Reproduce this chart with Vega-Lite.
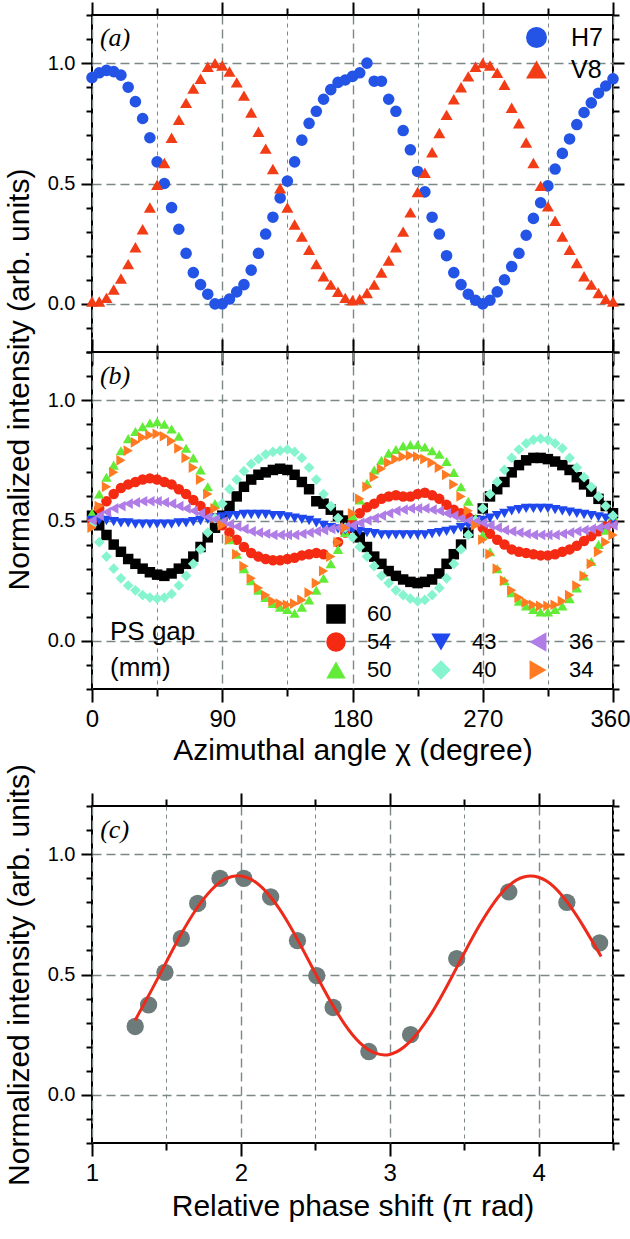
{
"$schema":"https://vega.github.io/schema/vega-lite/v6.json",
"background":"white",
"padding":{"left":3,"top":0,"right":2,"bottom":4},
"config":{
 "font":"Liberation Sans",
 "view":{"stroke":"black","strokeWidth":2},
 "axis":{"labelFont":"Liberation Sans","titleFont":"Liberation Sans","titleFontWeight":"normal","labelColor":"black","titleColor":"black","tickColor":"black","tickWidth":2,"domain":false},
 "legend":{"labelFont":"Liberation Sans","titleFont":"Liberation Sans","labelColor":"black","titleColor":"black","padding":0,"symbolStrokeWidth":0,"symbolOpacity":1}
},
"datasets":{
"a":[
{"s":"H7","chi":0,"v":0.94},{"s":"H7","chi":5,"v":0.96},{"s":"H7","chi":10,"v":0.97},{"s":"H7","chi":15,"v":0.965},{"s":"H7","chi":20,"v":0.95},{"s":"H7","chi":25,"v":0.9},{"s":"H7","chi":30,"v":0.84},{"s":"H7","chi":35,"v":0.77},{"s":"H7","chi":40,"v":0.69},{"s":"H7","chi":45,"v":0.59},{"s":"H7","chi":50,"v":0.5},{"s":"H7","chi":55,"v":0.4},{"s":"H7","chi":60,"v":0.31},{"s":"H7","chi":65,"v":0.21},{"s":"H7","chi":70,"v":0.13},{"s":"H7","chi":75,"v":0.08},{"s":"H7","chi":80,"v":0.04},{"s":"H7","chi":85,"v":0.0},{"s":"H7","chi":90,"v":0.0},{"s":"H7","chi":95,"v":0.02},{"s":"H7","chi":100,"v":0.05},{"s":"H7","chi":105,"v":0.08},{"s":"H7","chi":110,"v":0.14},{"s":"H7","chi":115,"v":0.21},{"s":"H7","chi":120,"v":0.29},{"s":"H7","chi":125,"v":0.36},{"s":"H7","chi":130,"v":0.44},{"s":"H7","chi":135,"v":0.51},{"s":"H7","chi":140,"v":0.59},{"s":"H7","chi":145,"v":0.68},{"s":"H7","chi":150,"v":0.75},{"s":"H7","chi":155,"v":0.8},{"s":"H7","chi":160,"v":0.85},{"s":"H7","chi":165,"v":0.89},{"s":"H7","chi":170,"v":0.92},{"s":"H7","chi":175,"v":0.93},{"s":"H7","chi":180,"v":0.945},{"s":"H7","chi":185,"v":0.96},{"s":"H7","chi":190,"v":1.0},{"s":"H7","chi":195,"v":0.925},{"s":"H7","chi":200,"v":0.925},{"s":"H7","chi":205,"v":0.85},{"s":"H7","chi":210,"v":0.8},{"s":"H7","chi":215,"v":0.72},{"s":"H7","chi":220,"v":0.64},{"s":"H7","chi":225,"v":0.55},{"s":"H7","chi":230,"v":0.465},{"s":"H7","chi":235,"v":0.36},{"s":"H7","chi":240,"v":0.29},{"s":"H7","chi":245,"v":0.2},{"s":"H7","chi":250,"v":0.13},{"s":"H7","chi":255,"v":0.08},{"s":"H7","chi":260,"v":0.04},{"s":"H7","chi":265,"v":0.015},{"s":"H7","chi":270,"v":0.0},{"s":"H7","chi":275,"v":0.015},{"s":"H7","chi":280,"v":0.05},{"s":"H7","chi":285,"v":0.1},{"s":"H7","chi":290,"v":0.155},{"s":"H7","chi":295,"v":0.21},{"s":"H7","chi":300,"v":0.285},{"s":"H7","chi":305,"v":0.355},{"s":"H7","chi":310,"v":0.42},{"s":"H7","chi":315,"v":0.49},{"s":"H7","chi":320,"v":0.56},{"s":"H7","chi":325,"v":0.625},{"s":"H7","chi":330,"v":0.685},{"s":"H7","chi":335,"v":0.745},{"s":"H7","chi":340,"v":0.795},{"s":"H7","chi":345,"v":0.835},{"s":"H7","chi":350,"v":0.875},{"s":"H7","chi":355,"v":0.905},{"s":"H7","chi":360,"v":0.935},
{"s":"V8","chi":0,"v":0.01},{"s":"V8","chi":5,"v":0.01},{"s":"V8","chi":10,"v":0.025},{"s":"V8","chi":15,"v":0.06},{"s":"V8","chi":20,"v":0.105},{"s":"V8","chi":25,"v":0.165},{"s":"V8","chi":30,"v":0.235},{"s":"V8","chi":35,"v":0.31},{"s":"V8","chi":40,"v":0.4},{"s":"V8","chi":45,"v":0.495},{"s":"V8","chi":50,"v":0.585},{"s":"V8","chi":55,"v":0.69},{"s":"V8","chi":60,"v":0.765},{"s":"V8","chi":65,"v":0.835},{"s":"V8","chi":70,"v":0.895},{"s":"V8","chi":75,"v":0.935},{"s":"V8","chi":80,"v":0.985},{"s":"V8","chi":85,"v":1.0},{"s":"V8","chi":90,"v":0.99},{"s":"V8","chi":95,"v":0.965},{"s":"V8","chi":100,"v":0.92},{"s":"V8","chi":105,"v":0.865},{"s":"V8","chi":110,"v":0.795},{"s":"V8","chi":115,"v":0.715},{"s":"V8","chi":120,"v":0.645},{"s":"V8","chi":125,"v":0.56},{"s":"V8","chi":130,"v":0.48},{"s":"V8","chi":135,"v":0.4},{"s":"V8","chi":140,"v":0.33},{"s":"V8","chi":145,"v":0.28},{"s":"V8","chi":150,"v":0.225},{"s":"V8","chi":155,"v":0.165},{"s":"V8","chi":160,"v":0.115},{"s":"V8","chi":165,"v":0.08},{"s":"V8","chi":170,"v":0.05},{"s":"V8","chi":175,"v":0.025},{"s":"V8","chi":180,"v":0.015},{"s":"V8","chi":185,"v":0.02},{"s":"V8","chi":190,"v":0.045},{"s":"V8","chi":195,"v":0.08},{"s":"V8","chi":200,"v":0.13},{"s":"V8","chi":205,"v":0.18},{"s":"V8","chi":210,"v":0.235},{"s":"V8","chi":215,"v":0.3},{"s":"V8","chi":220,"v":0.38},{"s":"V8","chi":225,"v":0.465},{"s":"V8","chi":230,"v":0.545},{"s":"V8","chi":235,"v":0.63},{"s":"V8","chi":240,"v":0.71},{"s":"V8","chi":245,"v":0.785},{"s":"V8","chi":250,"v":0.85},{"s":"V8","chi":255,"v":0.9},{"s":"V8","chi":260,"v":0.945},{"s":"V8","chi":265,"v":0.985},{"s":"V8","chi":270,"v":1.0},{"s":"V8","chi":275,"v":0.99},{"s":"V8","chi":280,"v":0.96},{"s":"V8","chi":285,"v":0.91},{"s":"V8","chi":290,"v":0.815},{"s":"V8","chi":295,"v":0.75},{"s":"V8","chi":300,"v":0.67},{"s":"V8","chi":305,"v":0.585},{"s":"V8","chi":310,"v":0.49},{"s":"V8","chi":315,"v":0.405},{"s":"V8","chi":320,"v":0.345},{"s":"V8","chi":325,"v":0.28},{"s":"V8","chi":330,"v":0.225},{"s":"V8","chi":335,"v":0.17},{"s":"V8","chi":340,"v":0.115},{"s":"V8","chi":345,"v":0.08},{"s":"V8","chi":350,"v":0.045},{"s":"V8","chi":355,"v":0.02},{"s":"V8","chi":360,"v":0.01}
],
"b":[
{"gap":60,"chi":0,"v":0.52},{"gap":60,"chi":5,"v":0.48},{"gap":60,"chi":10,"v":0.44},{"gap":60,"chi":15,"v":0.4},{"gap":60,"chi":20,"v":0.37},{"gap":60,"chi":25,"v":0.34},{"gap":60,"chi":30,"v":0.32},{"gap":60,"chi":35,"v":0.3},{"gap":60,"chi":40,"v":0.285},{"gap":60,"chi":45,"v":0.275},{"gap":60,"chi":50,"v":0.27},{"gap":60,"chi":55,"v":0.28},{"gap":60,"chi":60,"v":0.3},{"gap":60,"chi":65,"v":0.32},{"gap":60,"chi":70,"v":0.35},{"gap":60,"chi":75,"v":0.39},{"gap":60,"chi":80,"v":0.43},{"gap":60,"chi":85,"v":0.47},{"gap":60,"chi":90,"v":0.52},{"gap":60,"chi":95,"v":0.56},{"gap":60,"chi":100,"v":0.6},{"gap":60,"chi":105,"v":0.64},{"gap":60,"chi":110,"v":0.67},{"gap":60,"chi":115,"v":0.69},{"gap":60,"chi":120,"v":0.7},{"gap":60,"chi":125,"v":0.71},{"gap":60,"chi":130,"v":0.715},{"gap":60,"chi":135,"v":0.71},{"gap":60,"chi":140,"v":0.69},{"gap":60,"chi":145,"v":0.66},{"gap":60,"chi":150,"v":0.63},{"gap":60,"chi":155,"v":0.58},{"gap":60,"chi":160,"v":0.57},{"gap":60,"chi":165,"v":0.545},{"gap":60,"chi":170,"v":0.52},{"gap":60,"chi":175,"v":0.5},{"gap":60,"chi":180,"v":0.47},{"gap":60,"chi":185,"v":0.43},{"gap":60,"chi":190,"v":0.39},{"gap":60,"chi":195,"v":0.35},{"gap":60,"chi":200,"v":0.32},{"gap":60,"chi":205,"v":0.29},{"gap":60,"chi":210,"v":0.27},{"gap":60,"chi":215,"v":0.255},{"gap":60,"chi":220,"v":0.245},{"gap":60,"chi":225,"v":0.24},{"gap":60,"chi":230,"v":0.245},{"gap":60,"chi":235,"v":0.255},{"gap":60,"chi":240,"v":0.28},{"gap":60,"chi":245,"v":0.32},{"gap":60,"chi":250,"v":0.36},{"gap":60,"chi":255,"v":0.4},{"gap":60,"chi":260,"v":0.45},{"gap":60,"chi":265,"v":0.5},{"gap":60,"chi":270,"v":0.55},{"gap":60,"chi":275,"v":0.6},{"gap":60,"chi":280,"v":0.63},{"gap":60,"chi":285,"v":0.66},{"gap":60,"chi":290,"v":0.7},{"gap":60,"chi":295,"v":0.73},{"gap":60,"chi":300,"v":0.75},{"gap":60,"chi":305,"v":0.76},{"gap":60,"chi":310,"v":0.76},{"gap":60,"chi":315,"v":0.755},{"gap":60,"chi":320,"v":0.745},{"gap":60,"chi":325,"v":0.73},{"gap":60,"chi":330,"v":0.71},{"gap":60,"chi":335,"v":0.68},{"gap":60,"chi":340,"v":0.65},{"gap":60,"chi":345,"v":0.62},{"gap":60,"chi":350,"v":0.59},{"gap":60,"chi":355,"v":0.56},{"gap":60,"chi":360,"v":0.53},
{"gap":54,"chi":0,"v":0.5},{"gap":54,"chi":5,"v":0.55},{"gap":54,"chi":10,"v":0.58},{"gap":54,"chi":15,"v":0.61},{"gap":54,"chi":20,"v":0.635},{"gap":54,"chi":25,"v":0.65},{"gap":54,"chi":30,"v":0.66},{"gap":54,"chi":35,"v":0.67},{"gap":54,"chi":40,"v":0.675},{"gap":54,"chi":45,"v":0.67},{"gap":54,"chi":50,"v":0.66},{"gap":54,"chi":55,"v":0.65},{"gap":54,"chi":60,"v":0.63},{"gap":54,"chi":65,"v":0.61},{"gap":54,"chi":70,"v":0.585},{"gap":54,"chi":75,"v":0.56},{"gap":54,"chi":80,"v":0.535},{"gap":54,"chi":85,"v":0.51},{"gap":54,"chi":90,"v":0.48},{"gap":54,"chi":95,"v":0.45},{"gap":54,"chi":100,"v":0.42},{"gap":54,"chi":105,"v":0.39},{"gap":54,"chi":110,"v":0.365},{"gap":54,"chi":115,"v":0.35},{"gap":54,"chi":120,"v":0.34},{"gap":54,"chi":125,"v":0.335},{"gap":54,"chi":130,"v":0.335},{"gap":54,"chi":135,"v":0.34},{"gap":54,"chi":140,"v":0.345},{"gap":54,"chi":145,"v":0.355},{"gap":54,"chi":150,"v":0.36},{"gap":54,"chi":155,"v":0.365},{"gap":54,"chi":160,"v":0.36},{"gap":54,"chi":170,"v":0.41},{"gap":54,"chi":175,"v":0.45},{"gap":54,"chi":180,"v":0.49},{"gap":54,"chi":185,"v":0.53},{"gap":54,"chi":190,"v":0.555},{"gap":54,"chi":195,"v":0.57},{"gap":54,"chi":200,"v":0.59},{"gap":54,"chi":205,"v":0.6},{"gap":54,"chi":210,"v":0.605},{"gap":54,"chi":215,"v":0.6},{"gap":54,"chi":220,"v":0.6},{"gap":54,"chi":225,"v":0.61},{"gap":54,"chi":230,"v":0.615},{"gap":54,"chi":235,"v":0.605},{"gap":54,"chi":240,"v":0.59},{"gap":54,"chi":245,"v":0.565},{"gap":54,"chi":250,"v":0.545},{"gap":54,"chi":255,"v":0.53},{"gap":54,"chi":260,"v":0.515},{"gap":54,"chi":265,"v":0.495},{"gap":54,"chi":270,"v":0.47},{"gap":54,"chi":275,"v":0.445},{"gap":54,"chi":280,"v":0.42},{"gap":54,"chi":285,"v":0.4},{"gap":54,"chi":290,"v":0.38},{"gap":54,"chi":295,"v":0.37},{"gap":54,"chi":300,"v":0.365},{"gap":54,"chi":305,"v":0.36},{"gap":54,"chi":310,"v":0.355},{"gap":54,"chi":315,"v":0.355},{"gap":54,"chi":320,"v":0.36},{"gap":54,"chi":325,"v":0.37},{"gap":54,"chi":330,"v":0.38},{"gap":54,"chi":335,"v":0.395},{"gap":54,"chi":340,"v":0.415},{"gap":54,"chi":345,"v":0.435},{"gap":54,"chi":350,"v":0.455},{"gap":54,"chi":355,"v":0.475},{"gap":54,"chi":360,"v":0.49},
{"gap":50,"chi":0,"v":0.53},{"gap":50,"chi":5,"v":0.61},{"gap":50,"chi":10,"v":0.68},{"gap":50,"chi":15,"v":0.73},{"gap":50,"chi":20,"v":0.79},{"gap":50,"chi":25,"v":0.84},{"gap":50,"chi":30,"v":0.87},{"gap":50,"chi":35,"v":0.89},{"gap":50,"chi":40,"v":0.905},{"gap":50,"chi":45,"v":0.91},{"gap":50,"chi":50,"v":0.9},{"gap":50,"chi":55,"v":0.88},{"gap":50,"chi":60,"v":0.85},{"gap":50,"chi":65,"v":0.8},{"gap":50,"chi":70,"v":0.76},{"gap":50,"chi":75,"v":0.71},{"gap":50,"chi":80,"v":0.64},{"gap":50,"chi":85,"v":0.57},{"gap":50,"chi":90,"v":0.5},{"gap":50,"chi":95,"v":0.42},{"gap":50,"chi":100,"v":0.36},{"gap":50,"chi":105,"v":0.3},{"gap":50,"chi":110,"v":0.25},{"gap":50,"chi":115,"v":0.21},{"gap":50,"chi":120,"v":0.18},{"gap":50,"chi":125,"v":0.155},{"gap":50,"chi":130,"v":0.14},{"gap":50,"chi":135,"v":0.13},{"gap":50,"chi":140,"v":0.115},{"gap":50,"chi":145,"v":0.14},{"gap":50,"chi":150,"v":0.17},{"gap":50,"chi":155,"v":0.21},{"gap":50,"chi":160,"v":0.26},{"gap":50,"chi":165,"v":0.32},{"gap":50,"chi":170,"v":0.38},{"gap":50,"chi":175,"v":0.45},{"gap":50,"chi":180,"v":0.52},{"gap":50,"chi":185,"v":0.585},{"gap":50,"chi":190,"v":0.655},{"gap":50,"chi":195,"v":0.71},{"gap":50,"chi":200,"v":0.75},{"gap":50,"chi":205,"v":0.78},{"gap":50,"chi":210,"v":0.795},{"gap":50,"chi":215,"v":0.81},{"gap":50,"chi":220,"v":0.815},{"gap":50,"chi":225,"v":0.815},{"gap":50,"chi":230,"v":0.805},{"gap":50,"chi":235,"v":0.79},{"gap":50,"chi":240,"v":0.775},{"gap":50,"chi":245,"v":0.745},{"gap":50,"chi":250,"v":0.7},{"gap":50,"chi":255,"v":0.64},{"gap":50,"chi":260,"v":0.58},{"gap":50,"chi":265,"v":0.51},{"gap":50,"chi":270,"v":0.44},{"gap":50,"chi":275,"v":0.37},{"gap":50,"chi":280,"v":0.3},{"gap":50,"chi":285,"v":0.25},{"gap":50,"chi":290,"v":0.2},{"gap":50,"chi":295,"v":0.165},{"gap":50,"chi":300,"v":0.145},{"gap":50,"chi":305,"v":0.13},{"gap":50,"chi":310,"v":0.12},{"gap":50,"chi":315,"v":0.12},{"gap":50,"chi":320,"v":0.13},{"gap":50,"chi":325,"v":0.145},{"gap":50,"chi":330,"v":0.175},{"gap":50,"chi":335,"v":0.22},{"gap":50,"chi":340,"v":0.27},{"gap":50,"chi":345,"v":0.33},{"gap":50,"chi":350,"v":0.4},{"gap":50,"chi":355,"v":0.46},{"gap":50,"chi":360,"v":0.52},
{"gap":43,"chi":0,"v":0.5},{"gap":43,"chi":5,"v":0.5},{"gap":43,"chi":10,"v":0.5},{"gap":43,"chi":15,"v":0.495},{"gap":43,"chi":20,"v":0.49},{"gap":43,"chi":25,"v":0.49},{"gap":43,"chi":30,"v":0.485},{"gap":43,"chi":35,"v":0.485},{"gap":43,"chi":40,"v":0.485},{"gap":43,"chi":45,"v":0.485},{"gap":43,"chi":50,"v":0.485},{"gap":43,"chi":55,"v":0.485},{"gap":43,"chi":60,"v":0.49},{"gap":43,"chi":65,"v":0.49},{"gap":43,"chi":70,"v":0.495},{"gap":43,"chi":75,"v":0.5},{"gap":43,"chi":80,"v":0.505},{"gap":43,"chi":85,"v":0.51},{"gap":43,"chi":90,"v":0.515},{"gap":43,"chi":95,"v":0.52},{"gap":43,"chi":100,"v":0.52},{"gap":43,"chi":105,"v":0.525},{"gap":43,"chi":110,"v":0.525},{"gap":43,"chi":115,"v":0.525},{"gap":43,"chi":120,"v":0.525},{"gap":43,"chi":125,"v":0.52},{"gap":43,"chi":130,"v":0.52},{"gap":43,"chi":135,"v":0.515},{"gap":43,"chi":140,"v":0.51},{"gap":43,"chi":145,"v":0.505},{"gap":43,"chi":150,"v":0.5},{"gap":43,"chi":155,"v":0.49},{"gap":43,"chi":160,"v":0.48},{"gap":43,"chi":165,"v":0.47},{"gap":43,"chi":170,"v":0.465},{"gap":43,"chi":175,"v":0.46},{"gap":43,"chi":180,"v":0.46},{"gap":43,"chi":185,"v":0.455},{"gap":43,"chi":190,"v":0.45},{"gap":43,"chi":195,"v":0.445},{"gap":43,"chi":200,"v":0.44},{"gap":43,"chi":205,"v":0.44},{"gap":43,"chi":210,"v":0.44},{"gap":43,"chi":215,"v":0.44},{"gap":43,"chi":220,"v":0.44},{"gap":43,"chi":225,"v":0.44},{"gap":43,"chi":230,"v":0.44},{"gap":43,"chi":235,"v":0.445},{"gap":43,"chi":240,"v":0.45},{"gap":43,"chi":245,"v":0.455},{"gap":43,"chi":250,"v":0.46},{"gap":43,"chi":255,"v":0.47},{"gap":43,"chi":260,"v":0.48},{"gap":43,"chi":265,"v":0.49},{"gap":43,"chi":270,"v":0.5},{"gap":43,"chi":275,"v":0.51},{"gap":43,"chi":280,"v":0.52},{"gap":43,"chi":285,"v":0.53},{"gap":43,"chi":290,"v":0.54},{"gap":43,"chi":295,"v":0.545},{"gap":43,"chi":300,"v":0.55},{"gap":43,"chi":305,"v":0.55},{"gap":43,"chi":310,"v":0.55},{"gap":43,"chi":315,"v":0.55},{"gap":43,"chi":320,"v":0.545},{"gap":43,"chi":325,"v":0.54},{"gap":43,"chi":330,"v":0.535},{"gap":43,"chi":335,"v":0.53},{"gap":43,"chi":340,"v":0.525},{"gap":43,"chi":345,"v":0.52},{"gap":43,"chi":350,"v":0.515},{"gap":43,"chi":355,"v":0.51},{"gap":43,"chi":360,"v":0.505},
{"gap":40,"chi":0,"v":0.48},{"gap":40,"chi":5,"v":0.41},{"gap":40,"chi":10,"v":0.35},{"gap":40,"chi":15,"v":0.3},{"gap":40,"chi":20,"v":0.26},{"gap":40,"chi":25,"v":0.23},{"gap":40,"chi":30,"v":0.21},{"gap":40,"chi":35,"v":0.19},{"gap":40,"chi":40,"v":0.18},{"gap":40,"chi":45,"v":0.175},{"gap":40,"chi":50,"v":0.18},{"gap":40,"chi":55,"v":0.195},{"gap":40,"chi":60,"v":0.23},{"gap":40,"chi":65,"v":0.27},{"gap":40,"chi":70,"v":0.32},{"gap":40,"chi":75,"v":0.38},{"gap":40,"chi":80,"v":0.45},{"gap":40,"chi":85,"v":0.51},{"gap":40,"chi":90,"v":0.57},{"gap":40,"chi":95,"v":0.63},{"gap":40,"chi":100,"v":0.67},{"gap":40,"chi":105,"v":0.705},{"gap":40,"chi":110,"v":0.735},{"gap":40,"chi":115,"v":0.755},{"gap":40,"chi":120,"v":0.775},{"gap":40,"chi":125,"v":0.785},{"gap":40,"chi":130,"v":0.79},{"gap":40,"chi":135,"v":0.795},{"gap":40,"chi":140,"v":0.785},{"gap":40,"chi":145,"v":0.76},{"gap":40,"chi":150,"v":0.72},{"gap":40,"chi":155,"v":0.67},{"gap":40,"chi":160,"v":0.61},{"gap":40,"chi":165,"v":0.56},{"gap":40,"chi":170,"v":0.51},{"gap":40,"chi":175,"v":0.47},{"gap":40,"chi":180,"v":0.43},{"gap":40,"chi":185,"v":0.39},{"gap":40,"chi":190,"v":0.35},{"gap":40,"chi":195,"v":0.31},{"gap":40,"chi":200,"v":0.27},{"gap":40,"chi":205,"v":0.24},{"gap":40,"chi":210,"v":0.21},{"gap":40,"chi":215,"v":0.19},{"gap":40,"chi":220,"v":0.175},{"gap":40,"chi":225,"v":0.165},{"gap":40,"chi":230,"v":0.17},{"gap":40,"chi":235,"v":0.19},{"gap":40,"chi":240,"v":0.22},{"gap":40,"chi":245,"v":0.26},{"gap":40,"chi":250,"v":0.32},{"gap":40,"chi":255,"v":0.38},{"gap":40,"chi":260,"v":0.44},{"gap":40,"chi":265,"v":0.5},{"gap":40,"chi":270,"v":0.55},{"gap":40,"chi":275,"v":0.61},{"gap":40,"chi":280,"v":0.66},{"gap":40,"chi":285,"v":0.71},{"gap":40,"chi":290,"v":0.76},{"gap":40,"chi":295,"v":0.795},{"gap":40,"chi":300,"v":0.82},{"gap":40,"chi":305,"v":0.835},{"gap":40,"chi":310,"v":0.84},{"gap":40,"chi":315,"v":0.835},{"gap":40,"chi":320,"v":0.82},{"gap":40,"chi":325,"v":0.8},{"gap":40,"chi":330,"v":0.76},{"gap":40,"chi":335,"v":0.72},{"gap":40,"chi":340,"v":0.68},{"gap":40,"chi":345,"v":0.64},{"gap":40,"chi":350,"v":0.6},{"gap":40,"chi":355,"v":0.56},{"gap":40,"chi":360,"v":0.52},
{"gap":36,"chi":0,"v":0.5},{"gap":36,"chi":5,"v":0.52},{"gap":36,"chi":10,"v":0.535},{"gap":36,"chi":15,"v":0.55},{"gap":36,"chi":20,"v":0.56},{"gap":36,"chi":25,"v":0.57},{"gap":36,"chi":30,"v":0.575},{"gap":36,"chi":35,"v":0.58},{"gap":36,"chi":40,"v":0.58},{"gap":36,"chi":45,"v":0.58},{"gap":36,"chi":50,"v":0.575},{"gap":36,"chi":55,"v":0.57},{"gap":36,"chi":60,"v":0.56},{"gap":36,"chi":65,"v":0.55},{"gap":36,"chi":70,"v":0.54},{"gap":36,"chi":75,"v":0.53},{"gap":36,"chi":80,"v":0.515},{"gap":36,"chi":85,"v":0.505},{"gap":36,"chi":90,"v":0.495},{"gap":36,"chi":95,"v":0.485},{"gap":36,"chi":100,"v":0.475},{"gap":36,"chi":105,"v":0.465},{"gap":36,"chi":110,"v":0.455},{"gap":36,"chi":115,"v":0.45},{"gap":36,"chi":120,"v":0.445},{"gap":36,"chi":125,"v":0.44},{"gap":36,"chi":130,"v":0.44},{"gap":36,"chi":135,"v":0.44},{"gap":36,"chi":140,"v":0.44},{"gap":36,"chi":145,"v":0.445},{"gap":36,"chi":150,"v":0.45},{"gap":36,"chi":155,"v":0.455},{"gap":36,"chi":160,"v":0.46},{"gap":36,"chi":165,"v":0.465},{"gap":36,"chi":170,"v":0.47},{"gap":36,"chi":175,"v":0.475},{"gap":36,"chi":180,"v":0.48},{"gap":36,"chi":185,"v":0.49},{"gap":36,"chi":190,"v":0.5},{"gap":36,"chi":195,"v":0.51},{"gap":36,"chi":200,"v":0.52},{"gap":36,"chi":205,"v":0.53},{"gap":36,"chi":210,"v":0.54},{"gap":36,"chi":215,"v":0.545},{"gap":36,"chi":220,"v":0.55},{"gap":36,"chi":225,"v":0.55},{"gap":36,"chi":230,"v":0.55},{"gap":36,"chi":235,"v":0.545},{"gap":36,"chi":240,"v":0.54},{"gap":36,"chi":245,"v":0.53},{"gap":36,"chi":250,"v":0.52},{"gap":36,"chi":255,"v":0.51},{"gap":36,"chi":260,"v":0.5},{"gap":36,"chi":265,"v":0.495},{"gap":36,"chi":270,"v":0.49},{"gap":36,"chi":275,"v":0.48},{"gap":36,"chi":280,"v":0.47},{"gap":36,"chi":285,"v":0.46},{"gap":36,"chi":290,"v":0.455},{"gap":36,"chi":295,"v":0.45},{"gap":36,"chi":300,"v":0.445},{"gap":36,"chi":305,"v":0.44},{"gap":36,"chi":310,"v":0.44},{"gap":36,"chi":315,"v":0.44},{"gap":36,"chi":320,"v":0.44},{"gap":36,"chi":325,"v":0.445},{"gap":36,"chi":330,"v":0.45},{"gap":36,"chi":335,"v":0.455},{"gap":36,"chi":340,"v":0.46},{"gap":36,"chi":345,"v":0.465},{"gap":36,"chi":350,"v":0.47},{"gap":36,"chi":355,"v":0.475},{"gap":36,"chi":360,"v":0.48},
{"gap":34,"chi":0,"v":0.47},{"gap":34,"chi":5,"v":0.56},{"gap":34,"chi":10,"v":0.64},{"gap":34,"chi":15,"v":0.7},{"gap":34,"chi":20,"v":0.75},{"gap":34,"chi":25,"v":0.79},{"gap":34,"chi":30,"v":0.825},{"gap":34,"chi":35,"v":0.845},{"gap":34,"chi":40,"v":0.855},{"gap":34,"chi":45,"v":0.86},{"gap":34,"chi":50,"v":0.85},{"gap":34,"chi":55,"v":0.83},{"gap":34,"chi":60,"v":0.8},{"gap":34,"chi":65,"v":0.76},{"gap":34,"chi":70,"v":0.72},{"gap":34,"chi":75,"v":0.67},{"gap":34,"chi":80,"v":0.61},{"gap":34,"chi":85,"v":0.55},{"gap":34,"chi":90,"v":0.48},{"gap":34,"chi":95,"v":0.42},{"gap":34,"chi":100,"v":0.36},{"gap":34,"chi":105,"v":0.31},{"gap":34,"chi":110,"v":0.26},{"gap":34,"chi":115,"v":0.22},{"gap":34,"chi":120,"v":0.19},{"gap":34,"chi":125,"v":0.165},{"gap":34,"chi":130,"v":0.155},{"gap":34,"chi":135,"v":0.15},{"gap":34,"chi":140,"v":0.155},{"gap":34,"chi":145,"v":0.17},{"gap":34,"chi":150,"v":0.2},{"gap":34,"chi":155,"v":0.24},{"gap":34,"chi":160,"v":0.29},{"gap":34,"chi":165,"v":0.35},{"gap":34,"chi":170,"v":0.41},{"gap":34,"chi":175,"v":0.47},{"gap":34,"chi":180,"v":0.53},{"gap":34,"chi":185,"v":0.59},{"gap":34,"chi":190,"v":0.64},{"gap":34,"chi":195,"v":0.68},{"gap":34,"chi":200,"v":0.715},{"gap":34,"chi":205,"v":0.74},{"gap":34,"chi":210,"v":0.755},{"gap":34,"chi":215,"v":0.765},{"gap":34,"chi":220,"v":0.77},{"gap":34,"chi":225,"v":0.765},{"gap":34,"chi":230,"v":0.755},{"gap":34,"chi":235,"v":0.74},{"gap":34,"chi":240,"v":0.72},{"gap":34,"chi":245,"v":0.69},{"gap":34,"chi":250,"v":0.65},{"gap":34,"chi":255,"v":0.6},{"gap":34,"chi":260,"v":0.54},{"gap":34,"chi":265,"v":0.48},{"gap":34,"chi":270,"v":0.42},{"gap":34,"chi":275,"v":0.36},{"gap":34,"chi":280,"v":0.3},{"gap":34,"chi":285,"v":0.25},{"gap":34,"chi":290,"v":0.21},{"gap":34,"chi":295,"v":0.18},{"gap":34,"chi":300,"v":0.16},{"gap":34,"chi":305,"v":0.15},{"gap":34,"chi":310,"v":0.145},{"gap":34,"chi":315,"v":0.145},{"gap":34,"chi":320,"v":0.15},{"gap":34,"chi":325,"v":0.165},{"gap":34,"chi":330,"v":0.19},{"gap":34,"chi":335,"v":0.23},{"gap":34,"chi":340,"v":0.27},{"gap":34,"chi":345,"v":0.32},{"gap":34,"chi":350,"v":0.37},{"gap":34,"chi":355,"v":0.41},{"gap":34,"chi":360,"v":0.44}
],
"cpts":[
{"phase":1.29,"v":0.284},{"phase":1.38,"v":0.374},{"phase":1.49,"v":0.509},{"phase":1.6,"v":0.65},{"phase":1.71,"v":0.795},{"phase":1.86,"v":0.899},{"phase":2.02,"v":0.899},{"phase":2.2,"v":0.822},{"phase":2.38,"v":0.641},{"phase":2.51,"v":0.495},{"phase":2.62,"v":0.363},{"phase":2.86,"v":0.18},{"phase":3.14,"v":0.25},{"phase":3.45,"v":0.566},{"phase":3.8,"v":0.843},{"phase":4.19,"v":0.8},{"phase":4.41,"v":0.631}
],
"cfit":[
{"phase":1.29,"v":0.31},{"phase":1.4,"v":0.435},{"phase":1.5,"v":0.553},{"phase":1.6,"v":0.669},{"phase":1.7,"v":0.771},{"phase":1.8,"v":0.85},{"phase":1.9,"v":0.898},{"phase":2.0,"v":0.909},{"phase":2.1,"v":0.883},{"phase":2.2,"v":0.822},{"phase":2.3,"v":0.733},{"phase":2.4,"v":0.623},{"phase":2.5,"v":0.505},{"phase":2.6,"v":0.391},{"phase":2.7,"v":0.291},{"phase":2.8,"v":0.216},{"phase":2.9,"v":0.174},{"phase":3.0,"v":0.168},{"phase":3.1,"v":0.201},{"phase":3.2,"v":0.267},{"phase":3.3,"v":0.359},{"phase":3.4,"v":0.47},{"phase":3.5,"v":0.588},{"phase":3.6,"v":0.701},{"phase":3.7,"v":0.798},{"phase":3.8,"v":0.869},{"phase":3.9,"v":0.905},{"phase":4.0,"v":0.904},{"phase":4.1,"v":0.866},{"phase":4.2,"v":0.794},{"phase":4.3,"v":0.701},{"phase":4.42,"v":0.575}
]
},
"vconcat":[
{
 "width":521,"height":337,
 "layer":[
  {"data":{"name":"a"},"transform":[{"filter":"datum.s === 'H7'"}],
   "mark":{"type":"point","filled":true,"size":135,"opacity":1},
   "encoding":{
    "x":{"field":"chi","type":"quantitative","scale":{"domain":[0,360],"nice":false,"zero":false},
      "axis":{"orient":"bottom","values":[0,45,90,135,180,225,270,315,360],"labels":false,"title":null,"grid":true,"gridColor":"#7c8888",
        "gridDash":{"condition":{"test":"datum.value % 90 === 0","value":[9,5]},"value":[4,4]},
        "gridWidth":{"condition":{"test":"datum.value % 90 === 0","value":1.4},"value":1},
        "tickSize":{"condition":{"test":"datum.value % 90 === 0","value":13},"value":7}}},
    "y":{"field":"v","type":"quantitative","scale":{"domain":[-0.2,1.2],"nice":false,"zero":false},
      "axis":{"orient":"left","values":[-0.2,-0.1,0,0.1,0.2,0.3,0.4,0.5,0.6,0.7,0.8,0.9,1,1.1,1.2],"title":null,
        "labelExpr":"abs(datum.value*2-round(datum.value*2))<0.001 ? format(datum.value,'.1f') : ''","labelFontSize":20,"labelPadding":6,"labelOverlap":false,
        "grid":true,"gridColor":"#7c8888","gridDash":[9,5],"gridWidth":1.4,
        "gridOpacity":{"condition":{"test":"abs(datum.value*2-round(datum.value*2))<0.001 && abs(datum.value)<1.1","value":1},"value":0},
        "tickSize":{"condition":{"test":"abs(datum.value*2-round(datum.value*2))<0.001","value":11},"value":6}}},
    "color":{"field":"s","type":"nominal","scale":{"domain":["H7","V8"],"range":["#2354e6","#f23c16"]},
      "legend":{"orient":"top-right","offset":10,"title":null,"labelFontSize":25,"symbolSize":440,"labelOffset":22,"rowPadding":6}},
    "shape":{"field":"s","type":"nominal","scale":{"domain":["H7","V8"],"range":["circle","triangle-up"]},
      "legend":{"orient":"top-right","offset":10,"title":null,"labelFontSize":25,"symbolSize":440,"labelOffset":22,"rowPadding":6}}
   }},
  {"data":{"name":"a"},"transform":[{"filter":"datum.s === 'V8'"}],
   "mark":{"type":"point","filled":true,"size":145,"opacity":1},
   "encoding":{
    "x":{"field":"chi","type":"quantitative",
      "axis":{"orient":"top","values":[0,45,90,135,180,225,270,315,360],"labels":false,"title":null,"grid":false,
        "tickSize":{"condition":{"test":"datum.value % 90 === 0","value":13},"value":7}}},
    "y":{"field":"v","type":"quantitative",
      "axis":{"orient":"right","values":[-0.2,-0.1,0,0.1,0.2,0.3,0.4,0.5,0.6,0.7,0.8,0.9,1,1.1,1.2],"labels":false,"title":null,"grid":false,
        "tickSize":{"condition":{"test":"abs(datum.value*2-round(datum.value*2))<0.001","value":11},"value":6}}},
    "color":{"field":"s","type":"nominal",
      "legend":{"orient":"top-right","offset":10,"title":null,"labelFontSize":25,"symbolSize":440,"labelOffset":22,"rowPadding":6}},
    "shape":{"field":"s","type":"nominal",
      "legend":{"orient":"top-right","offset":10,"title":null,"labelFontSize":25,"symbolSize":440,"labelOffset":22,"rowPadding":6}}
   }},
  {"data":{"values":[{"panel":"(a)"}]},
   "mark":{"type":"text","font":"Liberation Serif","fontStyle":"italic","fontSize":26,"align":"left","baseline":"alphabetic","color":"black"},
   "encoding":{"x":{"datum":5.5,"type":"quantitative","axis":null},"y":{"datum":1.07,"type":"quantitative","axis":null},"text":{"field":"panel"}}}
 ],
 "resolve":{"axis":{"x":"independent","y":"independent"}}
},
{
 "width":521,"height":337,
 "layer":[
  {"data":{"name":"b"},"transform":[{"filter":"datum.gap >= 50"}],
   "mark":{"type":"point","filled":true,"size":110,"opacity":1},
   "encoding":{
    "x":{"field":"chi","type":"quantitative","scale":{"domain":[0,360],"nice":false,"zero":false},
      "axis":{"orient":"bottom","values":[0,45,90,135,180,225,270,315,360],"labelExpr":"datum.value % 90 === 0 ? datum.label : ''","labelFontSize":24,"labelPadding":5,"labelOverlap":false,"labelFlush":false,
        "labelAlign":{"condition":{"test":"datum.value === 360","value":"right"},"value":"center"},
        "labelOffset":{"condition":{"test":"datum.value === 360","value":17},"value":0},
        "title":"Azimuthal angle χ (degree)","titleFontSize":30,"titlePadding":4,
        "grid":true,"gridColor":"#7c8888",
        "gridDash":{"condition":{"test":"datum.value % 90 === 0","value":[9,5]},"value":[4,4]},
        "gridWidth":{"condition":{"test":"datum.value % 90 === 0","value":1.4},"value":1},
        "tickSize":{"condition":{"test":"datum.value % 90 === 0","value":13},"value":7}}},
    "y":{"field":"v","type":"quantitative","scale":{"domain":[-0.2,1.2],"nice":false,"zero":false},
      "axis":{"orient":"left","values":[-0.2,-0.1,0,0.1,0.2,0.3,0.4,0.5,0.6,0.7,0.8,0.9,1,1.1,1.2],
        "title":"Normalized intensity (arb. units)","titleFontSize":30,"titlePadding":13,"titleY":27,
        "labelExpr":"abs(datum.value*2-round(datum.value*2))<0.001 ? format(datum.value,'.1f') : ''","labelFontSize":20,"labelPadding":6,"labelOverlap":false,
        "grid":true,"gridColor":"#7c8888","gridDash":[9,5],"gridWidth":1.4,
        "gridOpacity":{"condition":{"test":"abs(datum.value*2-round(datum.value*2))<0.001 && abs(datum.value)<1.1","value":1},"value":0},
        "tickSize":{"condition":{"test":"abs(datum.value*2-round(datum.value*2))<0.001","value":11},"value":6}}},
    "color":{"field":"gap","type":"nominal","scale":{"domain":[60,54,50],"range":["#000000","#f42a12","#62ec38"]},
      "legend":{"orient":"none","legendX":18,"legendY":251,"title":["PS gap","(mm)"],"titleOrient":"left","titleAnchor":"end","titlePadding":129,"titleFontSize":26,"titleFontWeight":"normal","titleLineHeight":36,"labelFontSize":22,"symbolSize":380,"labelOffset":20,"rowPadding":6}},
    "shape":{"field":"gap","type":"nominal","scale":{"domain":[60,54,50],"range":["square","circle","triangle-up"]},
      "legend":{"orient":"none","legendX":18,"legendY":251,"title":["PS gap","(mm)"],"titleOrient":"left","titleAnchor":"end","titlePadding":129,"titleFontSize":26,"titleFontWeight":"normal","titleLineHeight":36,"labelFontSize":22,"symbolSize":380,"labelOffset":20,"rowPadding":6}}
   }},
  {"data":{"name":"b"},"transform":[{"filter":"datum.gap < 50"}],
   "mark":{"type":"point","filled":true,"size":115,"opacity":1},
   "encoding":{
    "x":{"field":"chi","type":"quantitative",
      "axis":{"orient":"top","values":[0,45,90,135,180,225,270,315,360],"labels":false,"title":null,"grid":false,
        "tickSize":{"condition":{"test":"datum.value % 90 === 0","value":13},"value":7}}},
    "y":{"field":"v","type":"quantitative",
      "axis":{"orient":"right","values":[-0.2,-0.1,0,0.1,0.2,0.3,0.4,0.5,0.6,0.7,0.8,0.9,1,1.1,1.2],"labels":false,"title":null,"grid":false,
        "tickSize":{"condition":{"test":"abs(datum.value*2-round(datum.value*2))<0.001","value":11},"value":6}}},
    "color":{"field":"gap","type":"nominal","scale":{"domain":[43,40,36,34],"range":["#1e48ee","#86f5cf","#b07ce6","#ff7a22"]},
      "legend":{"orient":"none","legendX":338,"legendY":279,"title":null,"columns":2,"columnPadding":30,"labelFontSize":22,"symbolSize":380,"labelOffset":20,"rowPadding":6}},
    "shape":{"field":"gap","type":"nominal","scale":{"domain":[43,40,36,34],"range":["triangle-down","diamond","triangle-left","triangle-right"]},
      "legend":{"orient":"none","legendX":338,"legendY":279,"title":null,"columns":2,"columnPadding":30,"labelFontSize":22,"symbolSize":380,"labelOffset":20,"rowPadding":6}}
   }},
  {"data":{"values":[{"panel":"(b)"}]},
   "mark":{"type":"text","font":"Liberation Serif","fontStyle":"italic","fontSize":26,"align":"left","baseline":"alphabetic","color":"black"},
   "encoding":{"x":{"datum":5.5,"type":"quantitative","axis":null},"y":{"datum":1.065,"type":"quantitative","axis":null},"text":{"field":"panel"}}}
 ],
 "resolve":{"axis":{"x":"independent","y":"independent"},"scale":{"color":"independent","shape":"independent"}}
},
{
 "width":521,"height":117,
 "data":{"values":[]},
 "mark":{"type":"point"},
 "encoding":{},
 "view":{"stroke":null}
},
{
 "width":521,"height":337,
 "layer":[
  {"data":{"name":"cpts"},
   "mark":{"type":"point","filled":true,"size":300,"opacity":1,"color":"#6d7b7b"},
   "encoding":{
    "x":{"field":"phase","type":"quantitative","scale":{"domain":[1,4.5],"nice":false,"zero":false},
      "axis":{"orient":"bottom","values":[1,1.5,2,2.5,3,3.5,4,4.5],"labelExpr":"datum.value % 1 === 0 ? format(datum.value,'d') : ''","labelFontSize":24,"labelPadding":5,"labelOverlap":false,"labelFlush":false,
        "title":"Relative phase shift (π rad)","titleFontSize":30,"titlePadding":6,
        "grid":true,"gridColor":"#7c8888",
        "gridDash":{"condition":{"test":"datum.value % 1 === 0","value":[9,5]},"value":[4,4]},
        "gridWidth":{"condition":{"test":"datum.value % 1 === 0","value":1.4},"value":1},
        "tickSize":{"condition":{"test":"datum.value % 1 === 0","value":13},"value":7}}},
    "y":{"field":"v","type":"quantitative","scale":{"domain":[-0.2,1.2],"nice":false,"zero":false},
      "axis":{"orient":"left","values":[-0.2,-0.1,0,0.1,0.2,0.3,0.4,0.5,0.6,0.7,0.8,0.9,1,1.1,1.2],
        "title":"Normalized intensity (arb. units)","titleFontSize":30,"titlePadding":13,
        "labelExpr":"abs(datum.value*2-round(datum.value*2))<0.001 ? format(datum.value,'.1f') : ''","labelFontSize":20,"labelPadding":6,"labelOverlap":false,
        "grid":true,"gridColor":"#7c8888","gridDash":[9,5],"gridWidth":1.4,
        "gridOpacity":{"condition":{"test":"abs(datum.value*2-round(datum.value*2))<0.001 && abs(datum.value)<1.1","value":1},"value":0},
        "tickSize":{"condition":{"test":"abs(datum.value*2-round(datum.value*2))<0.001","value":11},"value":6}}}
   }},
  {"data":{"name":"cfit"},
   "mark":{"type":"line","color":"#ee2a1a","strokeWidth":3,"interpolate":"natural"},
   "encoding":{
    "x":{"field":"phase","type":"quantitative",
      "axis":{"orient":"top","values":[1,1.5,2,2.5,3,3.5,4,4.5],"labels":false,"title":null,"grid":false,
        "tickSize":{"condition":{"test":"datum.value % 1 === 0","value":13},"value":7}}},
    "y":{"field":"v","type":"quantitative",
      "axis":{"orient":"right","values":[-0.2,-0.1,0,0.1,0.2,0.3,0.4,0.5,0.6,0.7,0.8,0.9,1,1.1,1.2],"labels":false,"title":null,"grid":false,
        "tickSize":{"condition":{"test":"abs(datum.value*2-round(datum.value*2))<0.001","value":11},"value":6}}}
   }},
  {"data":{"values":[{"panel":"(c)"}]},
   "mark":{"type":"text","font":"Liberation Serif","fontStyle":"italic","fontSize":26,"align":"left","baseline":"alphabetic","color":"black"},
   "encoding":{"x":{"datum":1.055,"type":"quantitative","axis":null},"y":{"datum":1.065,"type":"quantitative","axis":null},"text":{"field":"panel"}}}
 ],
 "resolve":{"axis":{"x":"independent","y":"independent"}}
}
],
"spacing":0,
"bounds":"flush"
}
